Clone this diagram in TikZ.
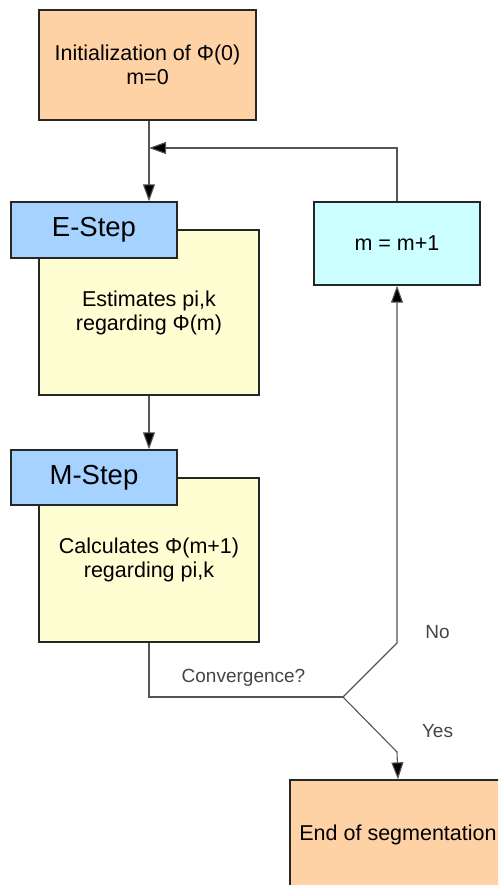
\documentclass[tikz,border=0pt]{standalone}
\usepackage{fontspec}
\setmainfont{Liberation Sans}
\usetikzlibrary{arrows.meta}
\definecolor{peach}{HTML}{FFD2A6}
\definecolor{stepblue}{HTML}{A6D2FF}
\definecolor{paleyellow}{HTML}{FFFDD2}
\definecolor{palecyan}{HTML}{CCFFFF}
\definecolor{linegray}{HTML}{555555}
\definecolor{labelgray}{HTML}{444444}
\tikzset{
  box/.style={draw=black!85, line width=1.3pt, rectangle, align=center, inner sep=0pt,
    font=\fontsize{21.5}{24}\selectfont},
  headbox/.style={box, fill=stepblue, font=\fontsize{27.5}{30}\selectfont},
  conn/.style={draw=linegray, line width=1.1pt},
  arr/.style={conn, -{Triangle[length=17pt,width=12pt,fill=black]}},
  lbl/.style={text=labelgray, font=\fontsize{19}{22}\selectfont, inner sep=0pt, anchor=base}
}
\begin{document}
\begin{tikzpicture}[x=1pt,y=-1pt]
\useasboundingbox (0,0) rectangle (498,885);
\clip (0,0) rectangle (498,885);
% boxes
\node[box, fill=peach, minimum width=217pt, minimum height=110pt] (init) at (147.5,65)
  {Initialization of Φ(0)\\m=0};
\node[box, fill=paleyellow, minimum width=220pt, minimum height=165pt] (eyel) at (149,312.5)
  {Estimates pi,k\\regarding Φ(m)};
\node[headbox, minimum width=166pt, minimum height=56pt] (ehead) at (94,230) {E-Step};
\node[box, fill=palecyan, minimum width=166pt, minimum height=83pt] (mpp) at (397,243.5) {m = m+1};
\node[box, fill=paleyellow, minimum width=220pt, minimum height=164pt] (myel) at (149,560)
  {Calculates Φ(m+1)\\regarding pi,k};
\node[headbox, minimum width=166pt, minimum height=55pt] (mhead) at (94,477.5) {M-Step};
\node[box, fill=peach, minimum width=216pt, minimum height=110pt] (end) at (398,835)
  {End of segmentation};
% junction coordinates
\coordinate (join) at (149,148);
\coordinate (dec) at (343,697);
\coordinate (nobend) at (397,643);
\coordinate (yesbend) at (397,752);
% connectors
\draw[arr] (init.south -| join) -- (ehead.north -| join);
\draw[arr] (mpp.north) |- (join);
\draw[arr] (eyel.south) -- (mhead.north -| eyel.south);
\draw[conn] (myel.south) |- (dec);
\draw[arr] (dec) -- (nobend) -- (mpp.south);
\draw[arr] (dec) -- (yesbend) -- (end.north);
% labels
\node[lbl] (convlbl) at (243.5,682) {Convergence?};
\node[lbl] (nolbl) at (437.5,638) {No};
\node[lbl] (yeslbl) at (437.5,737) {Yes};
\end{tikzpicture}
\end{document}
